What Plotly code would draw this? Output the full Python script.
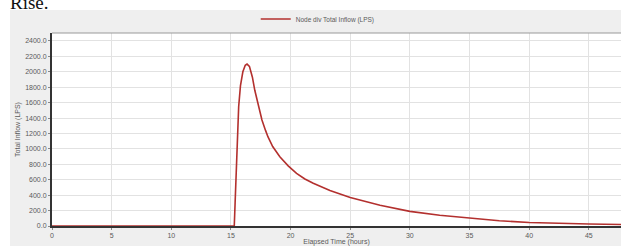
import plotly.graph_objects as go

# Data
time_hours = [0.0, 5.0, 10.0, 15.0, 15.28, 15.35, 15.45, 15.55, 15.65, 15.8, 16.0, 16.2, 16.35,
              16.55, 16.8, 17.0, 17.3, 17.6, 17.9, 18.1, 18.5, 19.1, 19.8, 20.5, 21.2, 21.9,
              23.3, 25.0, 27.5, 30.0, 32.5, 35.0, 37.5, 40.0, 42.5, 45.0, 47.7]
total_inflow = [0.0, 0.0, 0.0, 0.0, 0.0, 300.0, 800.0, 1250.0, 1550.0, 1820.0, 2000.0, 2085.0, 2100.0,
                2070.0, 1930.0, 1760.0, 1560.0, 1375.0, 1240.0, 1158.0, 1030.0, 899.0, 780.0, 683.0, 610.0, 554.0,
                460.0, 370.0, 270.0, 190.0, 140.0, 100.0, 68.0, 45.0, 33.0, 26.0, 20.0]
x_ticks = [0, 5, 10, 15, 20, 25, 30, 35, 40, 45]
y_ticks = [0, 200, 400, 600, 800, 1000, 1200, 1400, 1600, 1800, 2000, 2200, 2400]
series_name = "Node div Total Inflow (LPS)"

W, H = 621, 246
L, R, T, B = 52, 0, 33, 20
pw, ph = W - L - R, H - T - B

def px(x):
    return (x - L) / pw

def py(y):
    return (H - B - y) / ph

fig = go.Figure()
fig.add_trace(go.Scatter(x=time_hours, y=total_inflow, mode="lines", name=series_name,
                         line=dict(color="#b3302e", width=1.6)))

font_small = dict(family="Liberation Sans, Arial, sans-serif", size=7, color="#5a5a5a")

fig.update_layout(
    width=W, height=H,
    margin=dict(l=L, r=R, t=T, b=B, pad=0),
    paper_bgcolor="white",
    plot_bgcolor="white",
    showlegend=True,
    legend=dict(orientation="h", x=0.467, xanchor="center", y=py(19), yanchor="middle",
                font=dict(family="Liberation Sans, Arial, sans-serif", size=6.5, color="#5a5a5a"),
                bgcolor="rgba(0,0,0,0)", itemwidth=30),
    xaxis=dict(range=[0, 47.7], tickvals=x_ticks, ticktext=[str(v) for v in x_ticks],
               showgrid=True, gridcolor="#e2e2e2", gridwidth=1, zeroline=False,
               showline=True, linecolor="#333333", linewidth=1.5,
               ticks="outside", ticklen=2, tickcolor="#888888", tickfont=font_small,
               title=dict(text="Elapsed Time (hours)", font=font_small, standoff=0)),
    yaxis=dict(range=[0, 2503], tickvals=y_ticks, tickformat=".1f",
               showgrid=True, gridcolor="#e2e2e2", gridwidth=1, zeroline=False,
               showline=True, linecolor="#333333", linewidth=2,
               ticks="outside", ticklen=2, tickcolor="#888888", tickfont=font_small,
               title=dict(text="Total Inflow (LPS)", font=font_small, standoff=4)),
    shapes=[
        dict(type="rect", xref="paper", yref="paper", x0=px(10), x1=px(640), y0=py(260), y1=py(10),
             fillcolor="#efefef", line=dict(width=0), layer="below"),
        dict(type="rect", xref="paper", yref="paper", x0=0, x1=1, y0=0, y1=1,
             fillcolor="white", line=dict(width=0), layer="below"),
        dict(type="line", xref="paper", yref="paper", x0=0, x1=1, y0=1, y1=1,
             line=dict(color="#999999", width=1)),
    ],
    annotations=[
        dict(text="Rise.", xref="paper", yref="paper", x=px(8), y=py(2), xanchor="left", yanchor="middle",
             showarrow=False, font=dict(family="Liberation Serif, Times New Roman, serif", size=19, color="#111111")),
    ],
)

fig.write_html("out.html", config={"displayModeBar": False},
               post_script="document.body.style.margin='0';document.body.style.overflow='hidden';")
